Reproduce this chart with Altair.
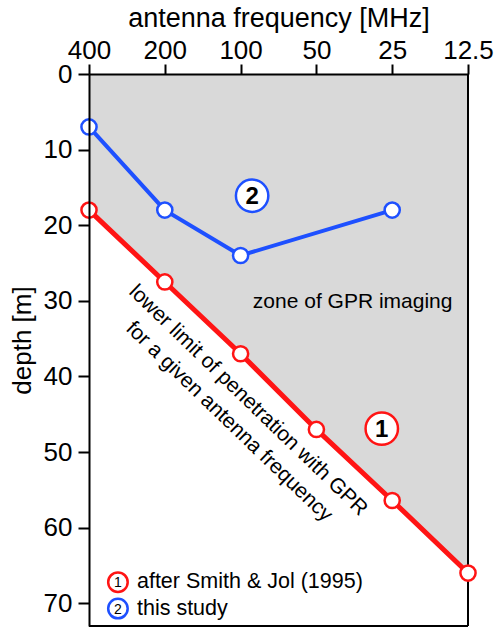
import altair as alt
import pandas as pd

# data
freq = [400, 200, 100, 50, 25, 12.5]
depth_smith = [18, 27.5, 37, 47, 56.4, 66]
freq_study = [400, 200, 100, 25]
depth_study = [7, 18, 24, 18]
freq_ticks = [400, 200, 100, 50, 25, 12.5]
depth_ticks = [0, 10, 20, 30, 40, 50, 60, 70]

RED = "#ff1414"
BLUE = "#1e50ff"
GRAY = "#d9d9d9"
FONT = "Liberation Sans"

red_df = pd.DataFrame({"freq": freq, "depth": depth_smith})
blue_df = pd.DataFrame({"freq": freq_study, "depth": depth_study})

xscale = alt.Scale(type="log", base=2, domain=[12.5, 400], reverse=True, nice=False)
yscale = alt.Scale(domain=[0, 73], reverse=True, nice=False, zero=False)

X = alt.X("freq:Q", scale=xscale,
          axis=alt.Axis(orient="top", values=freq_ticks, format="~g",
                        title="antenna frequency [MHz]", grid=False,
                        labelFontSize=26, titleFontSize=27, titleFontWeight="normal",
                        labelPadding=1, titlePadding=5, tickSize=10, tickWidth=2,
                        labelFlush=False, labelOverlap=False,
                        domainWidth=2, domainColor="black", tickColor="black",
                        labelColor="black", titleColor="black", zindex=1,
                        labelFont=FONT, titleFont=FONT))
Y = alt.Y("depth:Q", scale=yscale,
          axis=alt.Axis(orient="left", values=depth_ticks, title="depth [m]", grid=False,
                        labelFontSize=26, titleFontSize=26, titleFontWeight="normal",
                        labelPadding=6, titlePadding=8, tickSize=11, tickWidth=2,
                        labelFlush=False, labelOverlap=False,
                        domainWidth=2, domainColor="black", tickColor="black",
                        labelColor="black", titleColor="black", zindex=1,
                        labelFont=FONT, titleFont=FONT, titleY=266))

area = alt.Chart(red_df).mark_area(color=GRAY, opacity=1).encode(
    x=X, y=Y, y2=alt.datum(0))

blue_line = alt.Chart(blue_df).mark_line(color=BLUE, strokeWidth=4).encode(x="freq:Q", y="depth:Q")
blue_pts = alt.Chart(blue_df).mark_point(shape="circle", filled=False, fill="white", fillOpacity=1,
                                         stroke=BLUE, strokeWidth=2.5, size=230, opacity=1).encode(
    x="freq:Q", y="depth:Q")
red_line = alt.Chart(red_df).mark_line(color=RED, strokeWidth=5).encode(x="freq:Q", y="depth:Q")
red_pts = alt.Chart(red_df).mark_point(shape="circle", filled=False, fill="white", fillOpacity=1,
                                       stroke=RED, strokeWidth=2.5, size=230, opacity=1).encode(
    x="freq:Q", y="depth:Q")

# frame (right and bottom borders)
frame_r = alt.Chart(red_df).mark_rule(color="black", strokeWidth=2).encode(
    x=alt.datum(12.5), y=alt.datum(0), y2=alt.datum(73))
frame_b = alt.Chart(red_df).mark_rule(color="black", strokeWidth=2).encode(
    y=alt.datum(73), x=alt.datum(400), x2=alt.datum(12.5))

# annotation labels
lab_freq = [90, 27.5]
lab_depth = [16.1, 46.9]
lab_text = ["2", "1"]
lab_col = [BLUE, RED]
lab_df = pd.DataFrame({"freq": lab_freq, "depth": lab_depth, "t": lab_text, "c": lab_col})
lab_circ = alt.Chart(lab_df).mark_point(shape="circle", fill="white", fillOpacity=1,
                                        strokeWidth=2.5, size=1050, opacity=1).encode(
    x="freq:Q", y="depth:Q", stroke=alt.Color("c:N", scale=None))
lab_txt = alt.Chart(lab_df).mark_text(fontSize=24, fontWeight="bold", font=FONT, color="black",
                                      baseline="middle", align="center", dy=1).encode(
    x="freq:Q", y="depth:Q", text="t:N")

zone_df = pd.DataFrame({"freq": [35.9], "depth": [30.2], "t": ["zone of GPR imaging"]})
zone = alt.Chart(zone_df).mark_text(fontSize=21, font=FONT, color="black",
                                    baseline="middle", align="center").encode(
    x="freq:Q", y="depth:Q", text="t:N")

rot_freq = [93.4, 111.2]
rot_depth = [43.2, 46.0]
rot_text = ["lower limit of penetration with GPR", "for a given antenna frequency"]
rot_df = pd.DataFrame({"freq": rot_freq, "depth": rot_depth, "t": rot_text})
rot = alt.Chart(rot_df).mark_text(fontSize=21, font=FONT, color="black", angle=44,
                                  baseline="middle", align="center").encode(
    x="freq:Q", y="depth:Q", text="t:N")

# legend
leg_freq_c = [307, 307]
leg_freq_t = [258, 258]
leg_depth = [67.2, 70.7]
leg_num = ["1", "2"]
leg_text = ["after Smith & Jol (1995)", "this study"]
leg_df = pd.DataFrame({"fc": leg_freq_c, "ft": leg_freq_t, "depth": leg_depth,
                       "n": leg_num, "t": leg_text, "c": [RED, BLUE]})
leg_circ = alt.Chart(leg_df).mark_point(shape="circle", fill="white", fillOpacity=1,
                                        strokeWidth=2.5, size=380, opacity=1).encode(
    x="fc:Q", y="depth:Q", stroke=alt.Color("c:N", scale=None))
leg_num_t = alt.Chart(leg_df).mark_text(fontSize=14, font=FONT, color="black",
                                        baseline="middle", align="center", dy=1).encode(
    x="fc:Q", y="depth:Q", text="n:N")
leg_txt = alt.Chart(leg_df).mark_text(fontSize=21.5, font=FONT, color="black",
                                      baseline="middle", align="left").encode(
    x="ft:Q", y="depth:Q", text="t:N")

chart = alt.layer(area, frame_r, frame_b, blue_line, blue_pts, red_line, red_pts,
                  lab_circ, lab_txt, zone, rot, leg_circ, leg_num_t, leg_txt).properties(
    width=379, height=552,
    autosize=alt.AutoSizeParams(type="none"),
    padding={"left": 89, "top": 74, "right": 28, "bottom": 4},
    background="white",
).configure_view(stroke=None)

chart.save("out.html", embed_options={"renderer": "svg", "actions": False})
